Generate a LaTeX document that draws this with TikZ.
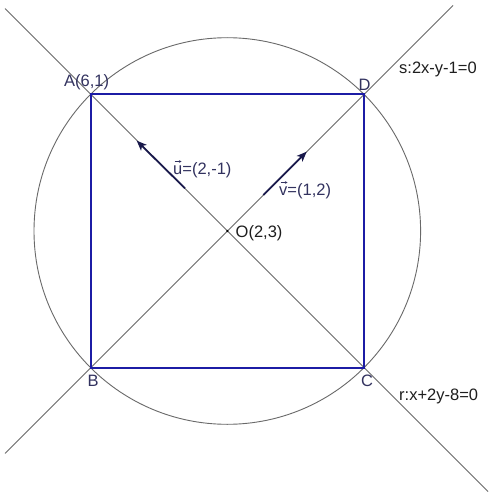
\documentclass[tikz,border=0pt]{standalone}
\usepackage{fontspec}
\setmainfont{Liberation Sans}
\usetikzlibrary{arrows.meta}
\definecolor{sqblue}{RGB}{28,28,165}
\definecolor{ptlab}{RGB}{50,50,95}
\definecolor{vecnavy}{RGB}{25,25,75}
\definecolor{linegray}{RGB}{105,105,105}
\definecolor{txtgray}{RGB}{30,30,30}
\tikzset{
  geoline/.style={draw=linegray, line width=0.9pt},
  square/.style={draw=sqblue, line width=2.3pt, line join=miter},
  vecarrow/.style={draw=vecnavy, line width=1.8pt, -{Stealth[length=10pt,width=8pt,inset=2.5pt]}},
  accentarrow/.style={draw=ptlab, line width=0.6pt, -{Stealth[length=2.5pt,width=2.5pt]}},
  ptlabel/.style={text=ptlab, inner sep=0pt, anchor=base west, font=\fontsize{16.5}{19}\selectfont},
  eqlabel/.style={text=txtgray, inner sep=0pt, anchor=base west, font=\fontsize{16.5}{19}\selectfont},
}
\begin{document}
\begin{tikzpicture}[x=1pt,y=-1pt]
\useasboundingbox[fill=white] (0,0) rectangle (491,495);
% points
\coordinate (A) at (90.7,94.3);
\coordinate (D) at (364,94.3);
\coordinate (B) at (90.7,367.7);
\coordinate (C) at (364,367.7);
\coordinate (O) at (227.3,231);
% line ends
\coordinate (r1) at (5,8.6);
\coordinate (r2) at (488,491.6);
\coordinate (s1) at (453,5.4);
\coordinate (s2) at (5,453.4);
% circle
\draw[geoline] (O) circle[radius=193.3];
% lines r and s
\draw[geoline] (r1) -- (r2);
\draw[geoline] (s1) -- (s2);
% square
\draw[square] (A) -- (D) -- (C) -- (B) -- cycle;
% vectors
\coordinate (u0) at (185,188.3);
\coordinate (u1) at (136.7,140.7);
\coordinate (v0) at (263.3,195);
\coordinate (v1) at (306.7,151.7);
\draw[vecarrow] (u0) -- (u1);
\draw[vecarrow] (v0) -- (v1);
% center dot
\fill[black] (O) circle[radius=1.2pt];
% labels
\node[ptlabel] (lA) at (64,86) {A(6,1)};
\node[ptlabel] (lD) at (358.5,90.5) {D};
\node[ptlabel] (lB) at (87.5,386) {B};
\node[ptlabel] (lC) at (361,386) {C};
\node[eqlabel] (ls) at (399,74) {s:2x-y-1=0};
\node[eqlabel] (lr) at (399,400) {r:x+2y-8=0};
\node[ptlabel] (lu) at (173,174) {u=(2,-1)};
\node[ptlabel] (lv) at (279,195) {v=(1,2)};
\node[eqlabel] (lO) at (235.5,237) {O(2,3)};
% accent arrows over u and v
\draw[accentarrow] ([shift={(1.5,-12.5)}]lu.base west) -- ([shift={(8.5,-12.5)}]lu.base west);
\draw[accentarrow] ([shift={(1.5,-12.5)}]lv.base west) -- ([shift={(8.5,-12.5)}]lv.base west);
\end{tikzpicture}
\end{document}
